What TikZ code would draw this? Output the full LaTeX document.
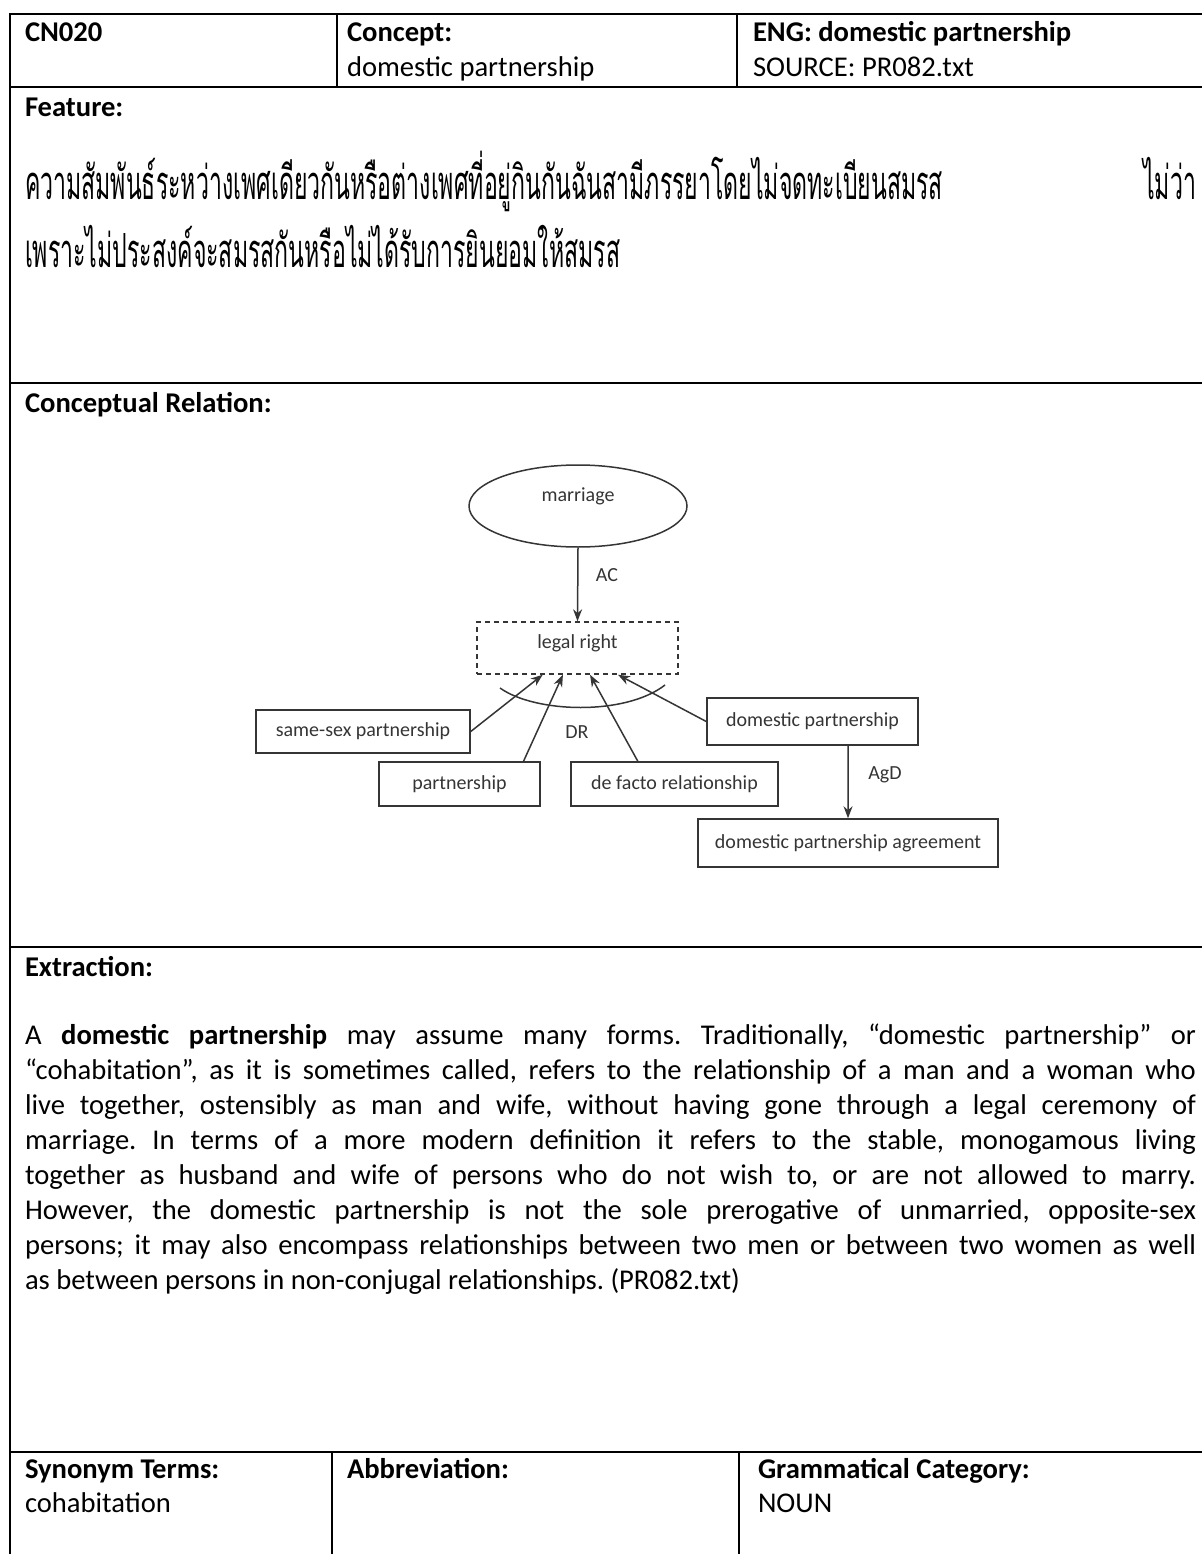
\documentclass[tikz,border=0pt]{standalone}
\usepackage{fontspec}
\usepackage{graphicx}
\setmainfont{Carlito}
\newfontfamily\thaifont[Script=Thai]{Loma}
\usetikzlibrary{calc,shapes.geometric,arrows.meta}
\definecolor{dgray}{HTML}{353535}

\tikzset{
  tbl/.style={line width=2pt, line cap=rect},
  txt/.style={inner sep=0pt, outer sep=0pt, font=\fontsize{28.6}{35}\selectfont},
  thai/.style={inner sep=0pt, outer sep=0pt, font=\thaifont\fontsize{42}{50}\selectfont},
  dg/.style={draw=dgray, line width=1.5pt},
  dbox/.style={dg, rectangle, inner sep=0pt, font=\fontsize{20}{24}\selectfont, text=dgray},
  dlabel/.style={inner sep=0pt, font=\fontsize{20}{24}\selectfont, text=dgray},
  arr/.style={draw=dgray, line width=1.5pt, -{Stealth[length=12pt,width=9pt]}},
}
\newcommand{\jline}[1]{\makebox[1171pt][s]{#1}}
% Thai lines share one horizontal squeeze, set by the width of the first line
\newsavebox\thaiA
\newcommand{\thaitextA}{ความสัมพันธ์ระหว่างเพศเดียวกันหรือต่างเพศที่อยู่กินกันฉันสามีภรรยาโดยไม่จดทะเบียนสมรส}

\begin{document}
\frenchspacing
\sbox\thaiA{\thaifont\fontsize{42}{50}\selectfont\thaitextA}
\begin{tikzpicture}[x=1pt,y=-1pt]
\pgfmathsetmacro\thaisx{918/\the\wd\thaiA}
\useasboundingbox (0,0) rectangle (1201,1554);
\fill[white] (0,0) rectangle (1201,1554);

% table rules
\draw[tbl] (10,14) -- (1201,14);
\draw[tbl] (10,87) -- (1201,87);
\draw[tbl] (10,383) -- (1201,383);
\draw[tbl] (10,947) -- (1201,947);
\draw[tbl] (10,1452) -- (1201,1452);
\draw[tbl] (10,14) -- (10,1554);
\draw[tbl] (337,14) -- (337,87);
\draw[tbl] (737,14) -- (737,87);
\draw[tbl] (332,1452) -- (332,1554);
\draw[tbl] (739,1452) -- (739,1554);

% header row
\node[txt,anchor=base west] (id) at (25,42) {\bfseries CN020};
\node[txt,anchor=base west] (cpt) at (347,42) {\bfseries Concept:};
\node[txt,anchor=base west] (cptv) at (347,77) {domestic partnership};
\node[txt,anchor=base west] (eng) at (753,42) {\bfseries ENG: domestic partnership};
\node[txt,anchor=base west] (src) at (753,77) {SOURCE: PR082.txt};

% feature
\node[txt,anchor=base west] (feat) at (25,117) {\bfseries Feature:};
\node[thai,anchor=base west] (th1) at (25,200) {\scalebox{\thaisx}[1.12]{\thaitextA}};
\node[thai,anchor=base east] (th1b) at (1196,200) {\scalebox{\thaisx}[1.12]{ไม่ว่า}};
\node[thai,anchor=base west] (th2) at (25,267) {\scalebox{\thaisx}[1.12]{เพราะไม่ประสงค์จะสมรสกันหรือไม่ได้รับการยินยอมให้สมรส}};

% conceptual relation
\node[txt,anchor=base west] (crel) at (25,412) {\bfseries Conceptual Relation:};

\node[ellipse, dg, inner sep=0pt, minimum width=218pt, minimum height=82pt] (mar) at (578,506) {};
\node[dlabel] (marT) at (578,496) {marriage};
\node[dbox, dash pattern=on 5pt off 4pt, minimum width=201pt, minimum height=52pt] (legal) at (577.5,648) {};
\node[dlabel] (legalT) at (577.5,643) {legal right};
\node[dbox, minimum width=214pt, minimum height=43pt] (ss) at (363,731.5) {same-sex partnership};
\node[dbox, minimum width=161pt, minimum height=44pt] (pp) at (459.5,784) {partnership};
\node[dbox, minimum width=207pt, minimum height=44pt] (df) at (674.5,784) {de facto relationship};
\node[dbox, minimum width=211pt, minimum height=47pt] (dp) at (812.5,721.5) {domestic partnership};
\node[dbox, minimum width=300pt, minimum height=48pt] (ag) at (848,843) {domestic partnership agreement};

\node[dlabel] (acL) at (607,575) {AC};
\node[dlabel] (drL) at (577,732) {DR};
\node[dlabel] (agdL) at (885,775) {AgD};

\draw[arr] (mar.south) -- (legal.north);
\draw[arr] (ss.east) -- ($(legal.south west)!0.328!(legal.south east)$);
\draw[arr] ($(pp.north west)!0.894!(pp.north east)$) -- ($(legal.south west)!0.428!(legal.south east)$);
\draw[arr] ($(df.north west)!0.324!(df.north east)$) -- ($(legal.south west)!0.562!(legal.south east)$);
\draw[arr] (dp.west) -- ($(legal.south west)!0.70!(legal.south east)$);
\draw[arr] ($(dp.south west)!0.668!(dp.south east)$) -- (ag.north);

\coordinate (arcL) at (500,688);
\coordinate (arcR) at (665,685);
\draw[dg] (arcL) .. controls (535,713) and (625,716) .. (arcR);

% extraction
\node[txt,anchor=base west] (ext) at (25,976) {\bfseries Extraction:};
\node[txt,anchor=base west] (p1) at (25,1044) {\jline{A \textbf{domestic partnership} may assume many forms. Traditionally, “domestic partnership” or}};
\node[txt,anchor=base west] (p2) at (25,1079) {\jline{“cohabitation”, as it is sometimes called, refers to the relationship of a man and a woman who}};
\node[txt,anchor=base west] (p3) at (25,1114) {\jline{live together, ostensibly as man and wife, without having gone through a legal ceremony of}};
\node[txt,anchor=base west] (p4) at (25,1149) {\jline{marriage. In terms of a more modern definition it refers to the stable, monogamous living}};
\node[txt,anchor=base west] (p5) at (25,1184) {\jline{together as husband and wife of persons who do not wish to, or are not allowed to marry.}};
\node[txt,anchor=base west] (p6) at (25,1219) {\jline{However, the domestic partnership is not the sole prerogative of unmarried, opposite-sex}};
\node[txt,anchor=base west] (p7) at (25,1254) {\jline{persons; it may also encompass relationships between two men or between two women as well}};
\node[txt,anchor=base west] (p8) at (25,1289) {as between persons in non-conjugal relationships. (PR082.txt)};

% bottom row
\node[txt,anchor=base west] (syn) at (25,1478) {\bfseries Synonym Terms:};
\node[txt,anchor=base west] (synv) at (25,1512) {cohabitation};
\node[txt,anchor=base west] (abb) at (347,1478) {\bfseries Abbreviation:};
\node[txt,anchor=base west] (gc) at (758,1478) {\bfseries Grammatical Category:};
\node[txt,anchor=base west] (gcv) at (758,1512) {NOUN};
\end{tikzpicture}
\end{document}
